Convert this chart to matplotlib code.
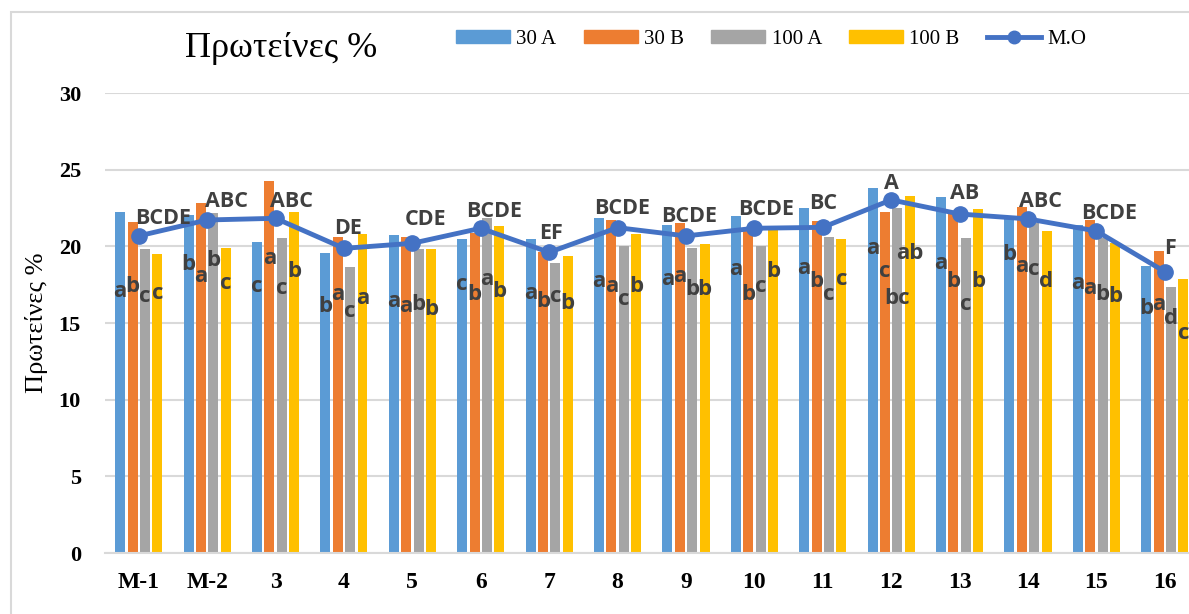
import numpy as np
import matplotlib
matplotlib.use('Agg')
import matplotlib.pyplot as plt
from matplotlib.patches import Patch, Rectangle
from matplotlib.lines import Line2D

categories = ['M-1', 'M-2', '3', '4', '5', '6', '7', '8', '9', '10', '11', '12', '13', '14', '15', '16']

v30a = [22.26, 22.05, 20.31, 19.55, 20.72, 20.48, 20.48, 21.87, 21.4, 21.98, 22.48, 23.79, 23.24, 21.9, 21.4, 18.72]
v30b = [21.57, 22.85, 24.27, 20.63, 20.63, 20.85, 19.66, 21.72, 21.5, 21.1, 21.66, 22.26, 22.16, 22.59, 21.72, 19.72]
v100a = [19.83, 22.16, 20.57, 18.63, 19.83, 21.83, 18.9, 20.05, 19.92, 20.05, 20.63, 22.48, 20.57, 21.5, 20.52, 17.37]
v100b = [19.48, 19.92, 22.26, 20.78, 19.81, 21.33, 19.37, 20.78, 20.13, 21.07, 20.48, 23.31, 22.42, 21.0, 20.2, 17.87]
mo = [20.68, 21.72, 21.83, 19.87, 20.2, 21.18, 19.61, 21.22, 20.68, 21.18, 21.24, 23.03, 22.11, 21.79, 21.0, 18.35]

# letras de significancia por barra (30A, 30B, 100A, 100B)
let30a = ['a', 'b', 'c', 'b', 'a', 'c', 'a', 'a', 'a', 'a', 'a', 'a', 'a', 'b', 'a', 'b']
let30b = ['b', 'a', 'a', 'a', 'a', 'b', 'b', 'a', 'a', 'b', 'b', 'c', 'b', 'a', 'a', 'a']
let100a = ['c', 'b', 'c', 'c', 'b', 'a', 'c', 'c', 'b', 'c', 'c', 'bc', 'c', 'c', 'b', 'd']
let100b = ['c', 'c', 'b', 'a', 'b', 'b', 'b', 'b', 'b', 'b', 'c', 'ab', 'b', 'd', 'b', 'c']
letmo = ['BCDE', 'ABC', 'ABC', 'DE', 'CDE', 'BCDE', 'EF', 'BCDE', 'BCDE', 'BCDE', 'BC', 'A', 'AB', 'ABC', 'BCDE', 'F']

# alturas de las letras (posicion del texto)
y30a = [17.05, 18.79, 17.37, 16.07, 16.39, 17.48, 16.94, 17.7, 17.81, 18.46, 18.57, 19.87, 18.9, 19.44, 17.59, 15.96]
y30b = [17.37, 18.03, 19.22, 16.83, 16.07, 16.83, 16.39, 17.37, 18.03, 16.83, 17.7, 18.35, 17.7, 18.68, 17.27, 16.18]
y100a = [16.72, 19.11, 17.27, 15.74, 16.18, 17.81, 16.72, 16.55, 17.16, 17.37, 16.83, 16.61, 16.18, 18.46, 16.83, 15.31]
y100b = [16.94, 17.59, 18.35, 16.61, 15.9, 17.05, 16.29, 17.37, 17.16, 18.35, 17.81, 19.55, 17.7, 17.7, 16.72, 14.33]
ymo = [21.83, 22.92, 22.92, 21.18, 21.72, 22.26, 20.85, 22.48, 21.94, 22.42, 22.81, 24.11, 23.46, 22.92, 22.16, 19.87]
dxmo = [0.35, 0.28, 0.24, 0.06, 0.19, 0.2, 0.03, 0.07, 0.04, 0.17, 0.0, 0.0, 0.08, 0.18, 0.19, 0.07]

colores = ['#5B9BD5', '#ED7D31', '#A5A5A5', '#FFC000']
nombres = ['30 A', '30 B', '100 A', '100 B']
serie = [v30a, v30b, v100a, v100b]
letras = [let30a, let30b, let100a, let100b]
alturas = [y30a, y30b, y100a, y100b]

fig = plt.figure(figsize=(11.89, 6.14), dpi=100)
ax = fig.add_axes([0.0879, 0.0993, 0.9205, 0.7492])

x = np.arange(len(categories))
paso = 0.181
ancho = 0.146

for k in range(4):
    pos = x + (k - 1.5) * paso
    ax.bar(pos, serie[k], width=ancho, color=colores[k], zorder=2)
    for i in range(len(categories)):
        ax.text(pos[i], alturas[k][i], letras[k][i], ha='center', va='center',
                fontsize=16, fontweight='bold', family='Open Sans', color='#404040', zorder=4)

ax.plot(x, mo, color='#4472C4', lw=3.5, marker='o', ms=11, zorder=3)
for i in range(len(categories)):
    ax.text(x[i] + dxmo[i], ymo[i], letmo[i], ha='center', va='center',
            fontsize=15.5, fontweight='bold', family='Open Sans', color='#404040', zorder=4)

ax.set_xlim(-0.5, 15.5)
ax.set_ylim(0, 30)
ax.set_yticks(range(0, 31, 5))
ax.set_xticks(x)
ax.set_xticklabels(categories)
ax.grid(axis='y', color='#D9D9D9', lw=1.5, zorder=0)
ax.set_axisbelow(True)
for s in ['top', 'right', 'left']:
    ax.spines[s].set_visible(False)
ax.spines['bottom'].set_color('#D9D9D9')
ax.spines['bottom'].set_linewidth(1.5)
ax.tick_params(axis='both', length=0)
ax.tick_params(axis='y', pad=17)
ax.tick_params(axis='x', pad=14)
for t in ax.get_yticklabels():
    t.set_fontfamily('Liberation Serif')
    t.set_fontweight('bold')
    t.set_fontsize(16)
for t in ax.get_xticklabels():
    t.set_fontfamily('Liberation Serif')
    t.set_fontweight('bold')
    t.set_fontsize(17)

fig.text(0.2368, 0.9215, u'Πρωτείνες %', ha='center', va='center',
         fontsize=26, family='Liberation Serif')
fig.text(0.0311, 0.474, u'Πρωτείνες %', ha='center', va='center', rotation=90,
         fontsize=19, family='Liberation Serif')

handles = [Patch(color=c) for c in colores]
handles.append(Line2D([], [], color='#4472C4', lw=3.5, marker='o', ms=9))
fig.legend(handles, nombres + ['M.O'], loc='center', bbox_to_anchor=(0.6485, 0.936),
           ncol=5, frameon=False, prop={'family': 'Liberation Serif', 'size': 15},
           handlelength=2.6, handleheight=0.6, handletextpad=0.3, columnspacing=1.3)

fig.patches.append(Rectangle((0.00925, -0.1), 1.2, 1.0805, transform=fig.transFigure,
                             fill=False, edgecolor='#D9D9D9', lw=1.5))

plt.savefig('out.png', dpi=100)
plt.close()
